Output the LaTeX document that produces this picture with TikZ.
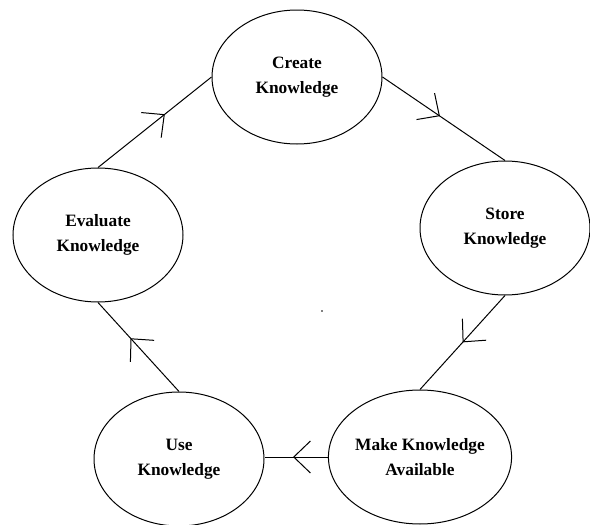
\documentclass[tikz,border=0pt]{standalone}
\usepackage{fontspec}
\setmainfont{Liberation Serif}
\usetikzlibrary{shapes.geometric,arrows.meta,decorations.markings}

\begin{document}
\begin{tikzpicture}[x=0.75pt,y=0.75pt,yscale=-1,xscale=1,
    stage/.style={draw,ellipse,line width=0.75,minimum width=127.5pt,minimum height=100.5pt,inner sep=0pt,align=center,font=\bfseries\fontsize{13}{18.5}\selectfont},
    midarrow/.style={line width=0.75,postaction={decorate},decoration={markings,mark=at position #1 with {\arrow{Straight Barb[length=12.5pt,width=24pt,line width=0.75]}}}}]
      \useasboundingbox (0,0) rectangle (590,525);
      \draw (297,77) node [stage] (create) {Create\\Knowledge};
      \draw (505,228) node [stage] (store) {Store\\Knowledge};
      \draw (420,457) node [stage] (makeavail) {Make Knowledge\\Available};
      \draw (179,459) node [stage] (use) {Use\\Knowledge};
      \draw (98,235) node [stage] (evaluate) {Evaluate\\Knowledge};
      \draw [midarrow=0.59] (evaluate.north) -- (create.west) ;
      \draw [midarrow=0.47] (create.east) -- (store.north) ;
      \draw [midarrow=0.5] (store.south) -- (makeavail.north) ;
      \draw [midarrow=0.55] (makeavail.west) -- (use.east |- makeavail.west) ;
      \draw [midarrow=0.6] (use.north) -- (evaluate.south) ;
      \fill (322,311) circle (0.8) ;
  \end{tikzpicture}
\end{document}
